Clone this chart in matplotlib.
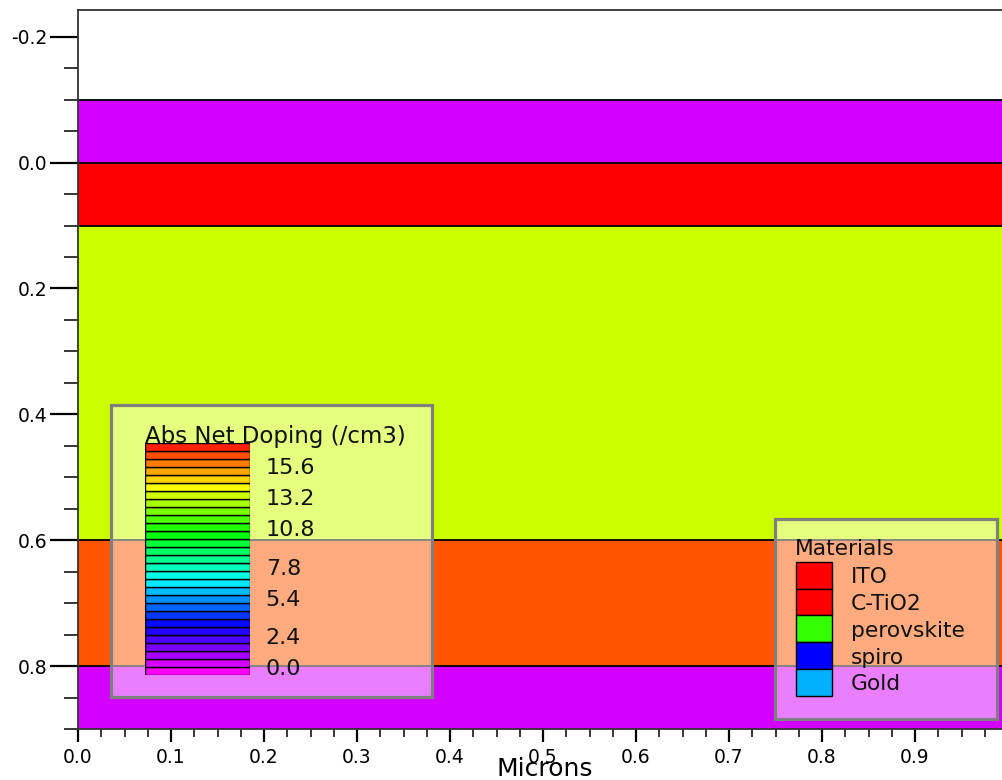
import matplotlib
matplotlib.use("Agg")
import matplotlib.pyplot as plt
from matplotlib.patches import Rectangle
from matplotlib.colors import hsv_to_rgb
from matplotlib.ticker import MultipleLocator, FormatStrFormatter
import numpy as np

plt.rcParams['font.family'] = ['DejaVu Sans']
plt.rcParams['axes.unicode_minus'] = False

# device layers (microns, y grows downward)
layer_top = [-0.1, 0.0, 0.1, 0.6, 0.8]
layer_bottom = [0.0, 0.1, 0.6, 0.8, 0.9]
layer_color = ['#d400ff', '#ff0000', '#ccff00', '#ff5500', '#d400ff']

# doping legend
dop_labels = [15.6, 13.2, 10.8, 7.8, 5.4, 2.4, 0.0]
dop_lo, dop_hi = -0.45, 17.55
n_bands = 29

# materials legend
mat_names = ['ITO', 'C-TiO2', 'perovskite', 'spiro', 'Gold']
mat_colors = ['#ff0000', '#ff0000', '#33ff00', '#0000ff', '#00b0ff']

W, H = 1003, 780
fig = plt.figure(figsize=(W / 100, H / 100), dpi=100)


def fx(x):
    return x / W


def fy(y):
    return 1 - y / H


ax = fig.add_axes([fx(78), fy(729), fx(1003 - 78), (729 - 10) / H])
for t, b, c in zip(layer_top, layer_bottom, layer_color):
    ax.axhspan(t, b, color=c, lw=0)
for t in layer_top:
    ax.axhline(t, color='black', lw=1.3)

ax.set_xlim(0, 0.9946)
ax.set_ylim(0.9, -0.2425)

ax.xaxis.set_major_locator(MultipleLocator(0.1))
ax.xaxis.set_minor_locator(MultipleLocator(0.025))
ax.yaxis.set_major_locator(MultipleLocator(0.2))
ax.yaxis.set_minor_locator(MultipleLocator(0.05))
ax.xaxis.set_major_formatter(FormatStrFormatter('%.1f'))
ax.yaxis.set_major_formatter(FormatStrFormatter('%.1f'))

ax.tick_params(axis='y', which='major', length=20, width=1.6, pad=2, labelsize=13.5)
ax.tick_params(axis='y', which='minor', length=10, width=1.1)
ax.tick_params(axis='x', which='major', length=9.5, width=1.6, pad=4, labelsize=13.5)
ax.tick_params(axis='x', which='minor', length=5.8, width=1.1)
ax.spines['right'].set_visible(False)
for s in ['left', 'top', 'bottom']:
    ax.spines[s].set_linewidth(1.3)
    ax.spines[s].set_color('#333333')

fig.text(fx(545), fy(776), 'Microns', fontsize=18, ha='center', va='baseline')

# doping legend box
fig.add_artist(Rectangle((fx(111), fy(697)), fx(432 - 111), (697 - 405) / H,
                         transform=fig.transFigure, facecolor=(1, 1, 1, 0.5),
                         edgecolor='#7f7f7f', lw=2.3, zorder=3))
fig.text(fx(145), fy(443), 'Abs Net Doping (/cm3)', fontsize=16.5,
         ha='left', va='baseline', color='#111111', zorder=6)

cax = fig.add_axes([fx(145), fy(675), fx(250 - 145), (675 - 443) / H], zorder=5)
cax.patch.set_alpha(0)
edges = np.linspace(dop_lo, dop_hi, n_bands + 1)
hues = np.linspace(300, 8, n_bands) / 360
band_colors = [hsv_to_rgb((h, 1, 1)) for h in hues]
cax.bar(0.5, edges[1:] - edges[:-1], bottom=edges[:-1], width=1,
        color=band_colors, edgecolor='black', lw=1)
cax.set_xlim(0, 1)
cax.set_ylim(dop_lo, dop_hi)
cax.axis('off')
for v in dop_labels:
    cax.text(1.15, v, f'{v:.1f}', fontsize=16, va='center', ha='left',
             transform=cax.get_yaxis_transform(), color='#111111')

# materials legend box
fig.add_artist(Rectangle((fx(775), fy(719)), fx(997 - 775), (719 - 519) / H,
                         transform=fig.transFigure, facecolor=(1, 1, 1, 0.5),
                         edgecolor='#7f7f7f', lw=2.3, zorder=3))
fig.text(fx(795), fy(555), 'Materials', fontsize=15.7, ha='left', va='baseline',
         color='#111111', zorder=6)
sw_top = 561.7
sw_h = 26.8
for i, (name, c) in enumerate(zip(mat_names, mat_colors)):
    y0 = sw_top + i * sw_h
    fig.add_artist(Rectangle((fx(796), fy(y0 + sw_h)), fx(36), sw_h / H,
                             transform=fig.transFigure, facecolor=c,
                             edgecolor='black', lw=1, zorder=5))
    fig.text(fx(851), fy(y0 + sw_h * 0.58), name, fontsize=15.7, ha='left',
             va='center', color='#111111', zorder=6)

fig.savefig('out.png', dpi=100)
